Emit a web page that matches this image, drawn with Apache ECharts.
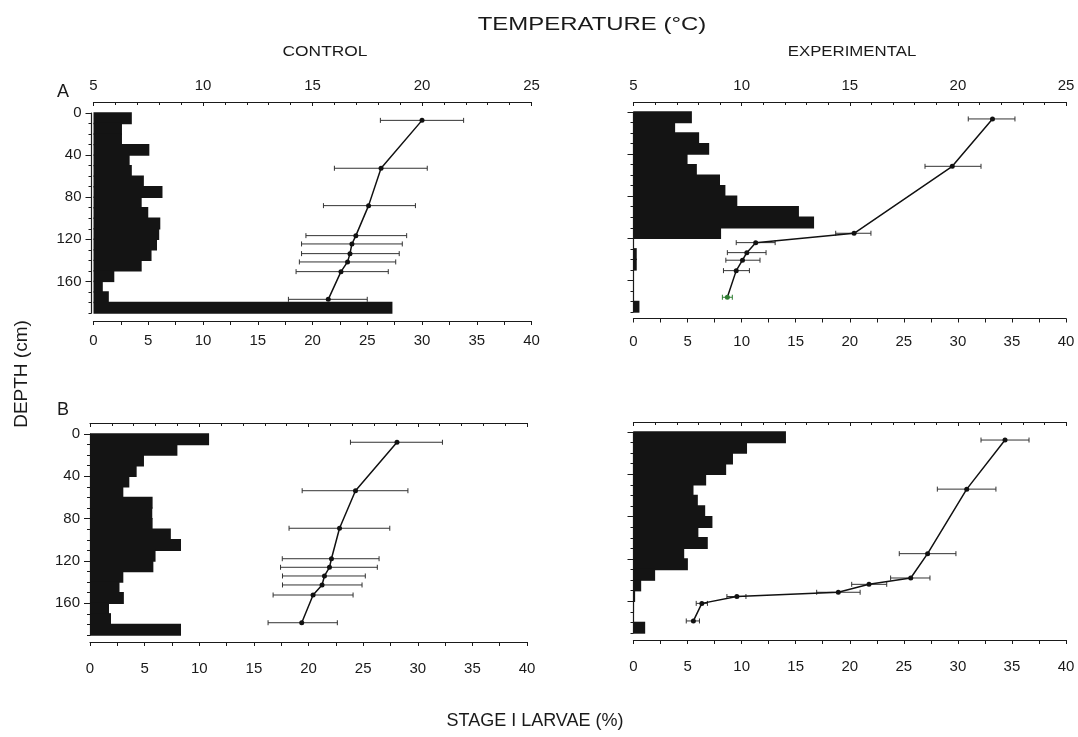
<!DOCTYPE html>
<html><head><meta charset="utf-8">
<script src="https://cdn.jsdelivr.net/npm/echarts@6/dist/echarts.min.js"></script>
<style>html,body{margin:0;padding:0;background:#fff}#c{width:1078px;height:737px}</style>
</head><body><div id="c"></div>
<script>
// ---- data ----
const binTops = [0,10,20,30,40,50,60,70,80,90,100,110,120,130,140,150,160,170,180];
const binSize = 10;
const larvaeCtrlA = [3.5,2.6,2.6,5.1,3.3,3.5,4.6,6.3,4.4,5.0,6.1,6.0,5.8,5.3,4.4,1.9,0.85,1.4,27.3];
const larvaeExpA  = [5.4,3.85,6.07,7.0,5.0,5.86,8.0,8.5,9.6,15.3,16.7,8.1,0,0.3,0.3,0,0,0,0.55];
const larvaeCtrlB = [10.9,8.0,4.94,4.27,3.6,3.05,5.73,5.7,5.73,7.4,8.33,6.0,5.8,3.05,2.7,3.1,1.74,1.92,8.33];
const larvaeExpB  = [14.1,10.5,9.2,8.57,6.72,5.55,5.95,6.63,7.3,6.0,6.87,4.69,5.03,2.0,0.71,0.15,0.05,0,1.08];

const tempDepthCtrlA = [7,52.5,88,116.5,124.4,133.6,141.5,150.7,177];
const tempCtrlA      = [20.0,18.13,17.56,16.98,16.8,16.71,16.6,16.3,15.72];
const tempLoCtrlA    = [18.1,16.0,15.5,14.7,14.5,14.5,14.4,14.25,13.9];
const tempHiCtrlA    = [21.9,20.24,19.7,19.3,19.1,18.96,18.8,18.46,17.5];

const tempDepthExpA = [6.6,51.6,115.2,124.1,133.6,140.8,150.7,176];
const tempExpA      = [21.6,19.74,15.2,10.65,10.24,10.04,9.75,9.34];
const tempLoExpA    = [20.48,18.48,14.35,9.75,9.34,9.27,9.16,9.11];
const tempHiExpA    = [22.64,21.07,15.98,11.55,11.13,10.85,10.36,9.57];

const tempDepthCtrlB = [7.8,53.6,89.1,117.9,126,134.2,142.7,152.2,178.4];
const tempCtrlB      = [19.05,17.15,16.42,16.05,15.96,15.73,15.62,15.21,14.69];
const tempLoCtrlB    = [16.92,14.71,14.11,13.8,13.72,13.81,13.81,13.38,13.15];
const tempHiCtrlB    = [21.13,19.55,18.72,18.23,18.15,17.6,17.45,17.04,16.32];

const tempDepthExpB = [7.6,54,115,138,144,151.5,155.5,162,178.6];
const tempExpB      = [22.18,20.41,18.6,17.82,15.89,14.47,9.78,8.16,7.77];
const tempLoExpB    = [21.07,19.05,17.29,16.89,15.09,13.47,9.32,7.9,7.44];
const tempHiExpB    = [23.29,21.76,19.91,18.71,16.71,15.48,10.2,8.42,8.05];

const depthLabels = [0,40,80,120,160];
const larvaeTicks = [0,5,10,15,20,25,30,35,40];
const tempTicks = [5,10,15,20,25];

// ---- layout ----
const FONT = 'Liberation Sans, Arial, Helvetica, sans-serif';
const INK = '#1a1a1a';
const panels = [
  {grid:{left:93.5,top:113,width:438,height:200}, topOff:11, botOff:8, botMargin:12, yOff:2, yLabels:true, topLabels:true,
   larvae:larvaeCtrlA, td:tempDepthCtrlA, t:tempCtrlA, lo:tempLoCtrlA, hi:tempHiCtrlA},
  {grid:{left:633.5,top:112,width:432.5,height:200}, topOff:10, botOff:6.5, botMargin:16, yOff:0, yLabels:false, topLabels:true,
   larvae:larvaeExpA, td:tempDepthExpA, t:tempExpA, lo:tempLoExpA, hi:tempHiExpA, greenLast:true},
  {grid:{left:90,top:434,width:437,height:201}, topOff:11, botOff:7, botMargin:19, yOff:0, yLabels:true, topLabels:false,
   larvae:larvaeCtrlB, td:tempDepthCtrlB, t:tempCtrlB, lo:tempLoCtrlB, hi:tempHiCtrlB},
  {grid:{left:633.5,top:432,width:432.5,height:201}, topOff:10, botOff:7, botMargin:19, yOff:0, yLabels:false, topLabels:false,
   larvae:larvaeExpB, td:tempDepthExpB, t:tempExpB, lo:tempLoExpB, hi:tempHiExpB}
];

const grids = [], xAxes = [], yAxes = [], series = [];
const axisLine = {show:true, onZero:false, lineStyle:{color:INK, width:1.2}};
const labelStyle = {fontFamily:FONT, fontSize:15, color:INK};

panels.forEach((p, i) => {
  grids.push(p.grid);
  // bottom larvae axis
  xAxes.push({type:'value', gridIndex:i, position:'bottom', offset:p.botOff, min:0, max:40, interval:5,
    axisLine, axisTick:{show:true, length:4, lineStyle:{color:INK}},
    minorTick:{show:true, splitNumber:2, length:4, lineStyle:{color:INK}},
    axisLabel:Object.assign({margin:p.botMargin, customValues:larvaeTicks}, labelStyle),
    splitLine:{show:false}, minorSplitLine:{show:false}});
  // top temperature axis
  xAxes.push({type:'value', gridIndex:i, position:'top', offset:p.topOff, min:5, max:25, interval:5,
    axisLine, axisTick:{show:true, inside:true, length:4, lineStyle:{color:INK}},
    minorTick:{show:true, splitNumber:5, length:3, lineStyle:{color:INK}},
    axisLabel:Object.assign({show:p.topLabels, margin:9, customValues:tempTicks}, labelStyle),
    splitLine:{show:false}, minorSplitLine:{show:false}});
  // depth axis (minor ticks)
  yAxes.push({type:'value', gridIndex:i, position:'left', min:0, max:190, interval:10, inverse:true, offset:p.yOff,
    axisLine, axisTick:{show:true, length:3, lineStyle:{color:INK}},
    axisLabel:{show:false}, splitLine:{show:false}});
  // depth axis (major ticks + labels)
  yAxes.push({type:'value', gridIndex:i, position:'left', min:0, max:190, interval:40, inverse:true, offset:p.yOff,
    axisLine:{show:false, onZero:false}, axisTick:{show:true, length:6, customValues:depthLabels, lineStyle:{color:INK}},
    axisLabel:Object.assign({show:p.yLabels, margin:10, customValues:depthLabels}, labelStyle),
    splitLine:{show:false}});

  // bars
  series.push({type:'custom', xAxisIndex:2*i, yAxisIndex:2*i, encode:{x:0, y:[1,2]},
    data: binTops.map((d, k) => [p.larvae[k], d, d + binSize]),
    renderItem: (params, api) => {
      const v = api.value(0);
      if (!v) return;
      const a = api.coord([0, api.value(1)]);
      const b = api.coord([v, api.value(2)]);
      return {type:'rect', shape:{x:a[0], y:a[1]-0.7, width:b[0]-a[0], height:b[1]-a[1]+1.4},
        style:{fill:'#141414'}};
    }, z:2, silent:true});

  // error bars
  const n = p.t.length;
  series.push({type:'custom', xAxisIndex:2*i+1, yAxisIndex:2*i, encode:{x:[0,1], y:2},
    data: p.td.map((d, k) => [p.lo[k], p.hi[k], d, (p.greenLast && k === n-1) ? 1 : 0]),
    renderItem: (params, api) => {
      const a = api.coord([api.value(0), api.value(2)]);
      const b = api.coord([api.value(1), api.value(2)]);
      const col = api.value(3) ? '#2f7d32' : '#333';
      const st = {stroke:col, lineWidth:1};
      return {type:'group', children:[
        {type:'line', shape:{x1:a[0], y1:a[1], x2:b[0], y2:b[1]}, style:st},
        {type:'line', shape:{x1:a[0], y1:a[1]-2.5, x2:a[0], y2:a[1]+2.5}, style:st},
        {type:'line', shape:{x1:b[0], y1:b[1]-2.5, x2:b[0], y2:b[1]+2.5}, style:st}
      ]};
    }, z:3, silent:true});

  // temperature profile
  series.push({type:'line', xAxisIndex:2*i+1, yAxisIndex:2*i,
    data: p.td.map((d, k) => {
      const item = {value:[p.t[k], d]};
      if (p.greenLast && k === n-1) item.itemStyle = {color:'#2f7d32'};
      return item;
    }),
    symbol:'circle', symbolSize:5, showSymbol:true,
    itemStyle:{color:'#111'}, lineStyle:{color:'#111', width:1.5}, z:4, silent:true, animation:false});
});

const txt = (text, x, y, size, extra) => Object.assign({type:'text', x, y,
  style:{text, fill:INK, font: size + 'px ' + FONT, textAlign:'center', textVerticalAlign:'middle'}}, extra || {});

const option = {
  animation:false,
  backgroundColor:'#fff',
  grid:grids, xAxis:xAxes, yAxis:yAxes, series,
  graphic:[
    txt('TEMPERATURE (°C)', 592, 25, 19, {scaleX:1.26}),
    txt('CONTROL', 325, 52, 14, {scaleX:1.24}),
    txt('EXPERIMENTAL', 852, 52, 14, {scaleX:1.2}),
    txt('A', 63, 92, 18),
    txt('B', 63, 410, 18),
    txt('DEPTH (cm)', 22, 374, 19, {rotation:Math.PI/2}),
    txt('STAGE I LARVAE (%)', 535, 721, 18)
  ]
};
const chart = echarts.init(document.getElementById('c'), null, {renderer:'canvas'});
chart.setOption(option);
</script></body></html>
